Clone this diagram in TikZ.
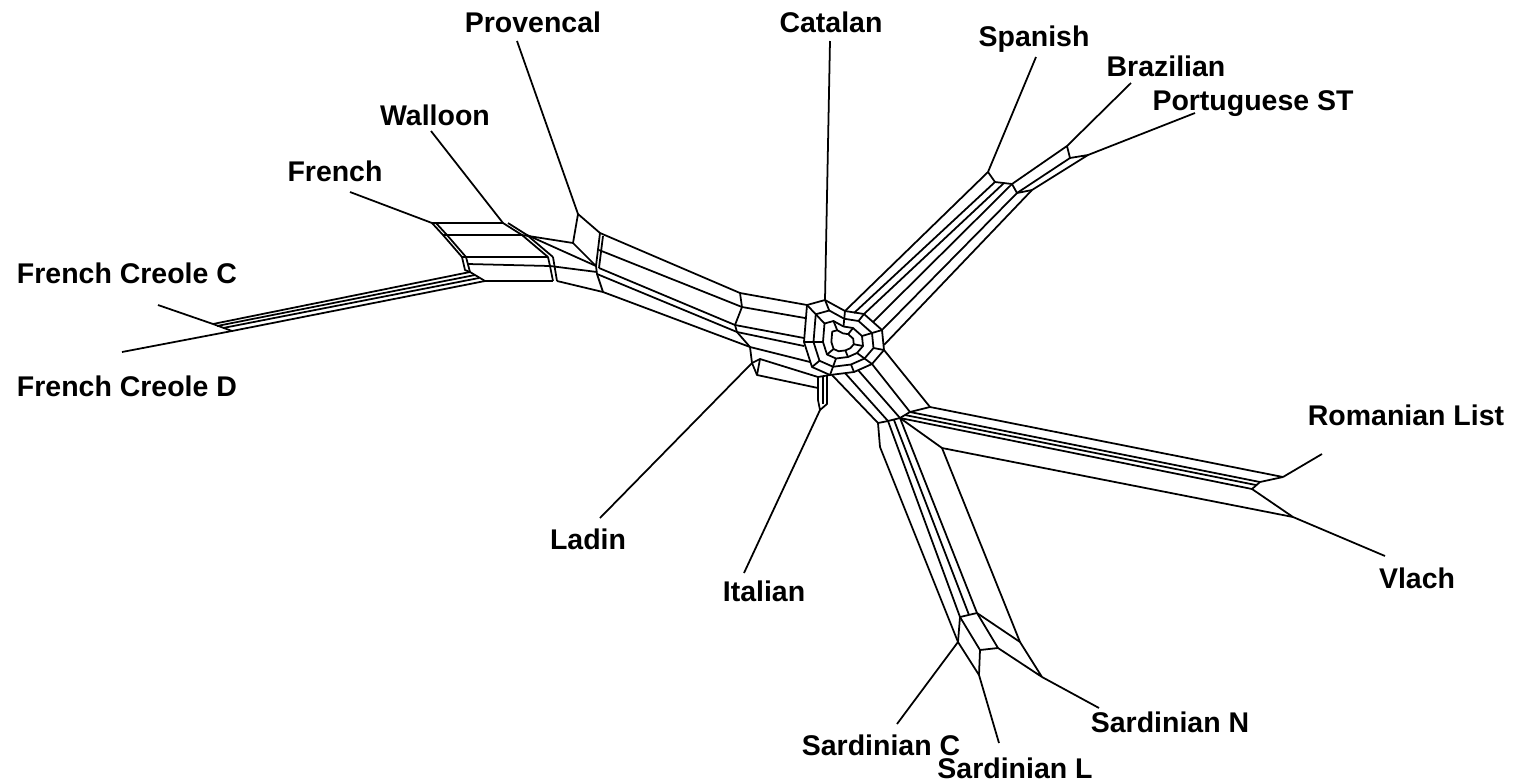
\documentclass[tikz,border=0pt]{standalone}
\usepackage{fontspec}
\setmainfont{Liberation Sans}
\begin{document}
\begin{tikzpicture}[x=0.01cm, y=-0.01cm,
  net/.style={line width=0.5pt, line join=round},
  lab/.style={font=\fontsize{8.1}{9.7}\selectfont\bfseries, inner sep=0pt, anchor=base}]
\useasboundingbox (0,0) rectangle (1517,781);
% taxon labels
\node[lab] (prov) at (533,32) {Provencal};
\node[lab] (cat)  at (831,32) {Catalan};
\node[lab] (spa)  at (1034,46) {Spanish};
\node[lab] (bra)  at (1166,76) {Brazilian};
\node[lab] (por)  at (1253,110) {Portuguese ST};
\node[lab] (wal)  at (435,125) {Walloon};
\node[lab] (fre)  at (335,181) {French};
\node[lab] (fcc)  at (127,283) {French Creole C};
\node[lab] (fcd)  at (127,396) {French Creole D};
\node[lab] (rom)  at (1406,425) {Romanian List};
\node[lab] (vla)  at (1417,588) {Vlach};
\node[lab] (lad)  at (588,549) {Ladin};
\node[lab] (ita)  at (764,601) {Italian};
\node[lab] (sac)  at (881,755) {Sardinian C};
\node[lab] (sal)  at (1015,778) {Sardinian L};
\node[lab] (san)  at (1170,732) {Sardinian N};
% leaf tips and attachment vertices
\coordinate (tProv) at (517,41);   \coordinate (vProv) at (578,214);
\coordinate (tCat)  at (830,41);   \coordinate (vCat)  at (825,300);
\coordinate (tSpa)  at (1036,57);  \coordinate (vSpa)  at (988,172);
\coordinate (tBra)  at (1131,83);  \coordinate (vBra)  at (1067,146);
\coordinate (tPor)  at (1195,113); \coordinate (vPor)  at (1088,155);
\coordinate (vPorA) at (1070,158);
\coordinate (tWal)  at (431,131);  \coordinate (vWal)  at (503,223);
\coordinate (tFre)  at (350,192);  \coordinate (vFre)  at (432,223);
\coordinate (tFCC)  at (158,305);  \coordinate (vFCC)  at (213,324);
\coordinate (tFCD)  at (122,352);  \coordinate (vFCD)  at (232,331);
\coordinate (tRom)  at (1322,454); \coordinate (vRom)  at (1283,477);
\coordinate (tVla)  at (1385,556); \coordinate (vVla)  at (1293,517);
\coordinate (tLad)  at (600,518);  \coordinate (vLad)  at (752,363);
\coordinate (tIta)  at (744,573);  \coordinate (vIta)  at (820,410);
\coordinate (tSaC)  at (897,724);  \coordinate (vSaC)  at (958,642);
\coordinate (tSaL)  at (999,743);  \coordinate (vSaL)  at (979,675);
\coordinate (tSaN)  at (1099,708); \coordinate (vSaN)  at (1042,677);
\foreach \t in {Prov,Cat,Spa,Bra,Por,Wal,Fre,FCC,FCD,Rom,Vla,Lad,Ita,SaC,SaL,SaN}
  \draw[net] (t\t) -- (v\t);
% creole arm
\draw[net] (vFCC) -- (470,272);
\draw[net] (217,326) -- (475,275);
\draw[net] (223,328) -- (479,278);
\draw[net] (vFCD) -- (485,281);
\draw[net] (vFCC) -- (vFCD);
% french and walloon block
\draw[net] (vFre) -- (vWal) -- (522,235) -- (548,257) -- (462,257) -- (443,235) -- cycle;
\draw[net] (443,235) -- (522,235);
\draw[net] (436,223) -- (447,235) -- (466,257);
\draw[net] (508,223) -- (527,235) -- (553,257);
\draw[net] (462,257) -- (465,270) -- (470,272) -- (485,281);
\draw[net] (466,257) -- (470,272);
\draw[net] (468,264) -- (550,266);
\draw[net] (485,281) -- (553,281);
\draw[net] (548,257) -- (550,266) -- (553,281);
\draw[net] (553,257) -- (557,281);
% provencal cell
\draw[net] (522,235) -- (573,243);
\draw[net] (527,235) -- (596,266);
\draw[net] (vProv) -- (600,233) -- (596,266) -- (573,243) -- cycle;
\draw[net] (603,236) -- (599,268);
\draw[net] (550,266) -- (597,272);
\draw[net] (557,281) -- (603,292);
\draw[net] (596,266) -- (597,274) -- (603,292);
% western band
\draw[net] (600,233) -- (740,293);
\draw[net] (599,250) -- (742,307);
\draw[net] (599,268) -- (735,325);
\draw[net] (597,274) -- (737,332);
\draw[net] (603,292) -- (750,347);
\draw[net] (740,293) -- (742,307) -- (735,325) -- (737,332) -- (750,347) -- (vLad);
\draw[net] (740,293) -- (807,305);
\draw[net] (742,307) -- (805,318);
\draw[net] (735,325) -- (804,338);
\draw[net] (737,332) -- (804,346);
\draw[net] (750,347) -- (810,362);
% ladin and italian
\draw[net] (vLad) -- (760,359) -- (818,377);
\draw[net] (vLad) -- (757,375) -- (818,388);
\draw[net] (760,359) -- (757,375);
\draw[net] (818,377) -- (818,400) -- (vIta) -- (827,404) -- (827,376);
\draw[net] (823,377) -- (823,404);
\draw[net] (818,377) -- (830,375);
% central mesh
\foreach \s in {1,0.75,0.5,0.28}
  \draw[net, shift={(842,342)}, scale=\s] (-35,-37) -- (-17,-42) -- (3,-31) -- (22,-28)
    -- (40,-12) -- (42,8) -- (30,22) -- (12,30) -- (-12,33) -- (-30,25) -- (-38,0) -- cycle;
\foreach \a/\b [count=\i] in {-35/-37,-17/-42,3/-31,22/-28,40/-12,42/8,30/22,12/30,-12/33,-30/25,-38/0}{
  \draw[net, shift={(842,342)}] ({0.75*(\a)},{0.75*(\b)}) -- (\a,\b);
  \ifodd\i
    \draw[net, shift={(842,342)}] ({0.5*(\a)},{0.5*(\b)}) -- ({0.75*(\a)},{0.75*(\b)});
  \else
    \draw[net, shift={(842,342)}] ({0.28*(\a)},{0.28*(\b)}) -- ({0.5*(\a)},{0.5*(\b)});
  \fi
}
% north-east band
\draw[net] (845,311) -- (vSpa);
\draw[net] (854,313) -- (995,182);
\draw[net] (864,314) -- (1004,183);
\draw[net] (873,322) -- (1012,184);
\draw[net] (882,330) -- (1017,193);
\draw[net] (884,345) -- (1032,190);
\draw[net] (vSpa) -- (995,182) -- (1012,184) -- (1017,193) -- (1032,190);
\draw[net] (1012,184) -- (vBra) -- (vPorA) -- (1017,193);
\draw[net] (vPorA) -- (vPor) -- (1032,190);
% junction below the centre
\draw[net] (884,350) -- (930,407);
\draw[net] (872,364) -- (910,412);
\draw[net] (858,370) -- (900,418);
\draw[net] (845,373) -- (888,421);
\draw[net] (832,375) -- (878,423);
\draw[net] (878,423) -- (888,421) -- (900,418) -- (910,412) -- (930,407);
% romanian and vlach band
\draw[net] (930,407) -- (vRom);
\draw[net] (910,412) -- (1260,482);
\draw[net] (905,415) -- (1256,485);
\draw[net] (900,418) -- (1252,489);
\draw[net] (900,418) -- (942,448) -- (vVla);
\draw[net] (vRom) -- (1260,482) -- (1252,489) -- (vVla);
% sardinian band
\draw[net] (878,423) -- (880,447) -- (vSaC);
\draw[net] (888,421) -- (960,617);
\draw[net] (894,420) -- (969,615);
\draw[net] (900,418) -- (977,613);
\draw[net] (960,617) -- (977,613);
\draw[net] (960,617) -- (vSaC);
\draw[net] (960,617) -- (980,650) -- (998,648) -- (977,613);
\draw[net] (977,613) -- (1020,642) -- (vSaN) -- (998,648);
\draw[net] (942,448) -- (1020,642);
\draw[net] (980,650) -- (vSaL);
\draw[net] (vSaC) -- (vSaL);
\end{tikzpicture}
\end{document}
